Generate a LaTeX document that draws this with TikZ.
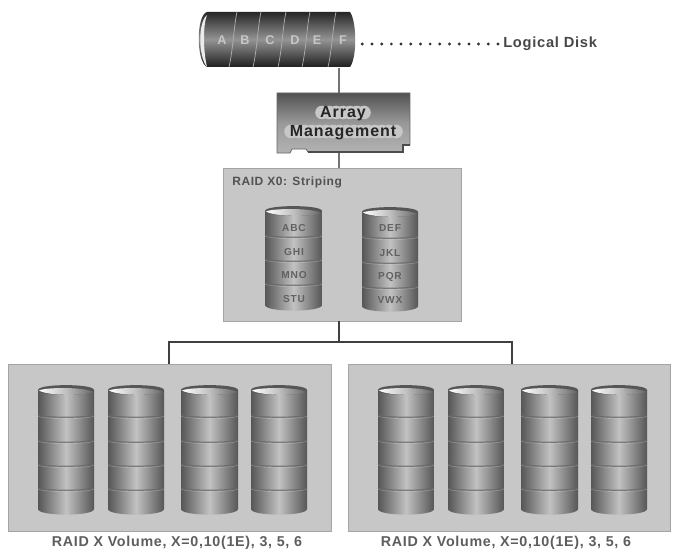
\documentclass[tikz,border=0pt]{standalone}
\usepackage{fontspec}
\setmainfont{Liberation Sans}
\definecolor{panelc}{HTML}{C7C7C7}
\definecolor{paneld}{HTML}{A4A4A4}
\definecolor{cdark}{HTML}{565656}
\definecolor{cmid}{HTML}{C2C2C2}
\definecolor{capt}{HTML}{5E5E5E}
\tikzset{
  panel/.style={draw=paneld,line width=.7pt,fill=panelc,inner sep=0pt},
  hollow/.style={inner sep=0pt,minimum width=#1*.75pt},
  trunkline/.style={draw=black!75,line width=1.1pt},
  gline/.style={draw=black!55,line width=2pt},
  caption/.style={font=\bfseries\fontsize{10.7pt}{12pt}\selectfont,text=capt,inner sep=0pt},
  disklabel/.style={font=\bfseries\fontsize{7.6pt}{9pt}\selectfont,text=black!62,inner sep=0pt},
  loglabel/.style={font=\bfseries\fontsize{9.5pt}{11pt}\selectfont,text=black!22,inner sep=0pt},
}
% vertical disk: x0 x1 top bottom, list of separators
\newcommand{\vdisk}[5]{%
  \path[left color=cdark,right color=cdark,middle color=cmid]
    (#1,#3+5) -- (#1,#4-6) .. controls (#1,#4+1.5) and (#2,#4+1.5) .. (#2,#4-6) -- (#2,#3+5) -- cycle;
  \foreach \sy in {#5}{
    \draw[black!60,line width=.9pt,opacity=.75] (#1,\sy) .. controls (#1+8,\sy+3) and (#2-8,\sy+3) .. (#2,\sy);
    \draw[black!12,line width=.25pt,opacity=.45] (#1,\sy+1.3) .. controls (#1+8,\sy+4.3) and (#2-8,\sy+4.3) .. (#2,\sy+1.3);
  }
  \path[fill=cdark]
    (#1,#3+5) .. controls (#1,#3-1.5) and (#2,#3-1.5) .. (#2,#3+5)
    .. controls (#2,#3+11.5) and (#1,#3+11.5) .. (#1,#3+5) -- cycle;
  \path[left color=white,right color=black!60,middle color=black!25]
    (#1+1,#3+5.5) .. controls (#1+8,#3+2) and (#2-8,#3+2) .. (#2-1,#3+7)
    .. controls (#2-10,#3+11) and (#1+10,#3+11) .. (#1+1,#3+5.5) -- cycle;
}
\begin{document}
\begin{tikzpicture}[x=.75pt,y=-.75pt]
\useasboundingbox (0,0) rectangle (673,556);
\fill[white] (0,0) rectangle (673,556);
\coordinate (trunk) at (339,340);
\coordinate (bus) at (339,342);

% panels
\node[panel,minimum width=238*.75pt,minimum height=153*.75pt] (raid) at (342,244.5) {};
\node[panel,minimum width=323*.75pt,minimum height=167*.75pt] (volL) at (169.5,447.5) {};
\node[panel,minimum width=322*.75pt,minimum height=167*.75pt] (volR) at (509,447.5) {};

% nodes for logical disk and board
\node[hollow=155,minimum height=56*.75pt] (ld) at (277.5,40) {};
\node[hollow=134,minimum height=60*.75pt] (am) at (343,123) {};

% connectors
\draw[gline] (ld.south -| trunk) -- (am.north -| trunk);
\draw[gline] (am.south -| trunk) -- (raid.north -| trunk);
\draw[trunkline] (raid.south -| trunk) -- (bus);
\draw[trunkline] (volL.north -| 169,0) -- (169,342) -- (512,342) -- (volR.north -| 512,0);

% logical disk
\path[top color=black!85,bottom color=black!88,middle color=black!42]
  (207,12) -- (350,12) .. controls (357,22) and (357,58) .. (350,67) -- (207,67)
  .. controls (196,62) and (196,15) .. (207,12) -- cycle;
\path[fill=black!8] (207,15) .. controls (198,22) and (198,56) .. (207,67)
  .. controls (203,50) and (203,25) .. (207,15) -- cycle;
\foreach \sx in {233,257,282,306,332}{
  \draw[black!30,line width=.5pt] (\sx+4,12) .. controls (\sx+1,25) and (\sx,50) .. (\sx-4,67);
}
\foreach \lx/\lt in {222/A,245/B,270/C,295/D,317/E,343/F}{
  \node[loglabel] (ld\lt) at (\lx,40) {\lt};
}

% logical disk label
\node[anchor=west,inner sep=0pt,font=\bfseries\fontsize{11pt}{12pt}\selectfont,text=black!72] (lab) at (503,44) {\addfontfeature{LetterSpace=5}Logical Disk};
\draw[black!80,line width=2.4pt,line cap=round,dash pattern=on 0pt off 7.27pt,shorten <=7*.75pt,shorten >=5*.75pt] (ld.east |- lab.west) -- (lab.west);

% board
\path[top color=black!68,bottom color=black!30,middle color=black!40,draw=black!60,line width=.6pt]
  (277,93) -- (410,93) -- (410,145) -- (403,145) -- (403,152) -- (308,152) -- (306,149)
  -- (292,149) -- (290,153) -- (277,153) -- cycle;
\draw[black!70,line width=1pt] (308,152) -- (403,152) -- (403,145) -- (410,145);
\foreach \hx in {322,329,...,364}{\fill[black!22] (\hx,112.5) circle[radius=6.8];}
\foreach \hx in {291,298,...,399}{\fill[black!22] (\hx,131.5) circle[radius=6.8];}
\node[align=center,inner sep=0pt,text=black!85,font=\bfseries\fontsize{12pt}{14.4pt}\selectfont] (amtext) at (am.center)
  {\addfontfeature{LetterSpace=6}Array\\\addfontfeature{LetterSpace=6}Management};

% RAID X0
\node[anchor=west,inner sep=0pt,font=\bfseries\fontsize{9pt}{10pt}\selectfont,text=black!68] (rt) at (232,182) {\addfontfeature{LetterSpace=5}RAID X0: Striping};
\vdisk{265}{322}{206}{311}{235,259,283}
\vdisk{362}{418}{207}{312}{236,261,286}
\foreach \lx/\ly/\lt/\nm in {294/228/ABC/a,294/252/GHI/b,294/275/MNO/c,294/299/STU/d,
  390/228/DEF/e,390/253/JKL/f,390/277/PQR/g,390/300/VWX/h}{
  \node[disklabel] (dl\nm) at (\lx,\ly) {\addfontfeature{LetterSpace=8}\lt};
}

% volumes
\foreach \xa/\xb in {38/94,108/164,181/238,251/307,378/434,448/504,521/578,591/647}{
  \vdisk{\xa}{\xb}{385}{515}{415,440,464,488}
}
\node[caption] (capL) at (177,543) {\addfontfeature{LetterSpace=5}RAID X Volume, X=0,10(1E), 3, 5, 6};
\node[caption] (capR) at (506,543) {\addfontfeature{LetterSpace=5}RAID X Volume, X=0,10(1E), 3, 5, 6};
\end{tikzpicture}
\end{document}
